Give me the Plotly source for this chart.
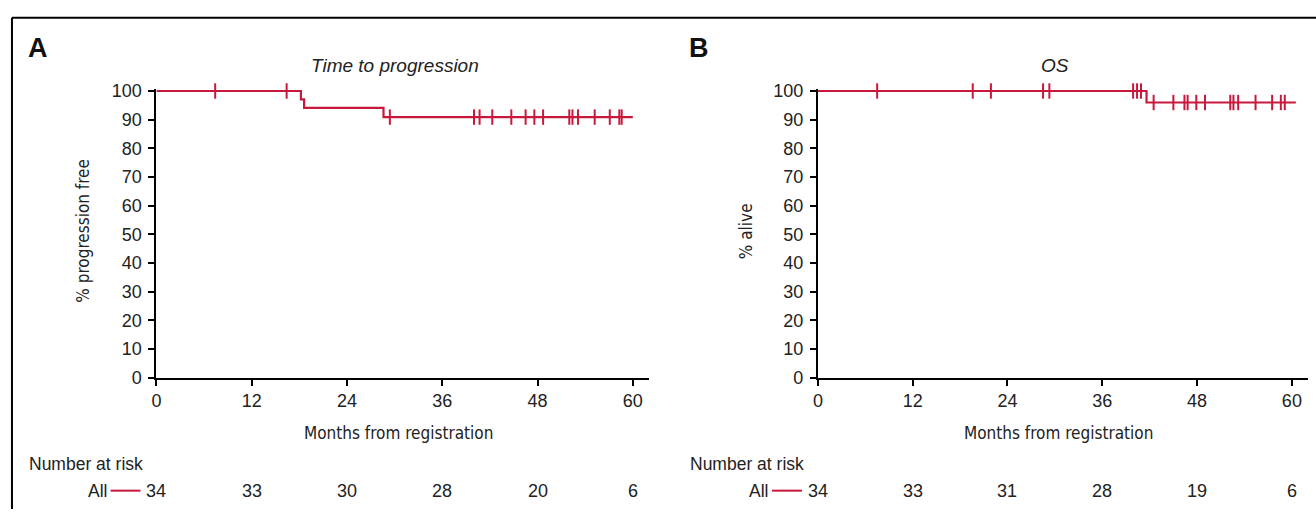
import numpy as np
import plotly.graph_objects as go

# ---------------- data ----------------
month_ticks = [0, 12, 24, 36, 48, 60]
pct_ticks = [0, 10, 20, 30, 40, 50, 60, 70, 80, 90, 100]

# Panel A: time to progression (KM steps)
ttp_step_t = [0, 18.2, 18.6, 28.6, 60.0]
ttp_step_s = [100, 97.1, 94.1, 90.9, 90.9]
ttp_censor_t = [7.4, 16.4, 29.4, 40.0, 40.7, 42.3, 44.7, 46.5, 47.6, 48.7,
                52.0, 52.4, 53.1, 55.2, 57.1, 58.3, 58.6]
ttp_at_risk = [34, 33, 30, 28, 20, 6]

# Panel B: overall survival
os_step_t = [0, 41.6, 60.5]
os_step_s = [100, 96.0, 96.0]
os_censor_t = [7.5, 19.6, 21.9, 28.5, 29.3, 39.9, 40.4, 40.9, 42.5, 45.0,
               46.4, 46.8, 47.9, 49.0, 52.2, 52.6, 53.2, 55.4, 57.5, 58.6, 59.1]
os_at_risk = [34, 33, 31, 28, 19, 6]

# ---------------- style ----------------
W, H = 1316, 519
RED = "#C8193C"
FONT = "Liberation Sans, Arial, sans-serif"
NARROW = "DejaVu Sans Condensed, Liberation Sans Narrow, sans-serif"


def fx(px):
    return px / W


def fy(py):
    return 1 - py / H


def step_value(t_steps, s_steps, t):
    idx = np.searchsorted(np.asarray(t_steps), np.asarray(t), side="right") - 1
    return list(np.asarray(s_steps)[idx])


fig = go.Figure()

panels = [
    dict(x="x", y="y", xa="xaxis", ya="yaxis", x0=152, ppm=7.97,
         t=ttp_step_t, s=ttp_step_s, c=ttp_censor_t, risk=ttp_at_risk,
         title="Time to progression", ytitle="% progression free",
         letter="A", letter_x=22, ytitle_x=78, nar_x=22, all_x=104),
    dict(x="x2", y="y2", xa="xaxis2", ya="yaxis2", x0=816, ppm=7.93,
         t=os_step_t, s=os_step_s, c=os_censor_t, risk=os_at_risk,
         title="OS", ytitle="% alive",
         letter="B", letter_x=686, ytitle_x=744, nar_x=686, all_x=768),
]

Y0, Y100 = 383, 86
ppu = (Y0 - Y100) / 100.0
YMAX = 100.6
XMAX = 62

annotations = []
shapes = []

for p in panels:
    fig.add_trace(go.Scatter(
        x=p["t"], y=p["s"], mode="lines", line=dict(color=RED, width=2.2, shape="hv"),
        xaxis=p["x"], yaxis=p["y"], showlegend=False, hoverinfo="skip"))
    fig.add_trace(go.Scatter(
        x=p["c"], y=step_value(p["t"], p["s"], p["c"]), mode="markers",
        marker=dict(symbol="line-ns-open", size=11, color=RED, line=dict(color=RED, width=2)),
        xaxis=p["x"], yaxis=p["y"], showlegend=False, cliponaxis=False, hoverinfo="skip"))

    x_end = p["x0"] + XMAX * p["ppm"]
    fig.layout[p["xa"]] = dict(
        domain=[fx(p["x0"]), fx(x_end)], range=[0, XMAX], anchor=p["y"],
        tickvals=month_ticks, ticks="outside", ticklen=6, tickwidth=1.5, tickcolor="black",
        showline=True, linecolor="black", linewidth=2, showgrid=False, zeroline=False,
        tickfont=dict(family=FONT, size=18, color="#222"), fixedrange=True)
    fig.layout[p["ya"]] = dict(
        domain=[fy(Y0), fy(Y100 - (YMAX - 100) * ppu)], range=[0, YMAX], anchor=p["x"],
        tickvals=pct_ticks, ticks="outside", ticklen=6, tickwidth=1.5, tickcolor="black",
        showline=True, linecolor="black", linewidth=2, showgrid=False, zeroline=False,
        ticklabelstandoff=3,
        tickfont=dict(family=FONT, size=18, color="#222"), fixedrange=True)

    cx = p["x0"] + 60 * p["ppm"] / 2
    # plot title
    annotations.append(dict(text=f"<i>{p['title']}</i>", x=fx(cx), y=fy(60), xref="paper", yref="paper",
                            showarrow=False, font=dict(family=FONT, size=19, color="#222"),
                            xanchor="center", yanchor="middle"))
    # panel letter
    annotations.append(dict(text=f"<b>{p['letter']}</b>", x=fx(p["letter_x"] - 1), y=fy(41), xref="paper",
                            yref="paper", showarrow=False, font=dict(family=FONT, size=27, color="#111"),
                            xanchor="left", yanchor="middle"))
    # axis titles
    annotations.append(dict(text=p["ytitle"], x=fx(p["ytitle_x"]), y=fy(231), xref="paper", yref="paper",
                            showarrow=False, textangle=-90, font=dict(family=NARROW, size=17, color="#222"),
                            xanchor="center", yanchor="middle"))
    annotations.append(dict(text="Months from registration", x=fx(cx + 4), y=fy(440), xref="paper",
                            yref="paper", showarrow=False, font=dict(family=NARROW, size=17, color="#222"),
                            xanchor="center", yanchor="middle"))
    # number at risk
    annotations.append(dict(text="Number at risk", x=fx(p["nar_x"]), y=fy(472), xref="paper", yref="paper",
                            showarrow=False, font=dict(family=FONT, size=17.5, color="#222"),
                            xanchor="left", yanchor="middle"))
    annotations.append(dict(text="All", x=fx(p["all_x"]), y=fy(500), xref="paper", yref="paper",
                            showarrow=False, font=dict(family=FONT, size=17.5, color="#222"),
                            xanchor="right", yanchor="middle"))
    shapes.append(dict(type="line", xref="paper", yref="paper",
                       x0=fx(p["all_x"] + 2), x1=fx(p["all_x"] + 32), y0=fy(500), y1=fy(500),
                       line=dict(color=RED, width=2)))
    for m, n in zip(month_ticks, p["risk"]):
        annotations.append(dict(text=str(n), x=m, y=fy(500), xref=p["x"], yref="paper",
                                showarrow=False, font=dict(family=FONT, size=18, color="#222"),
                                xanchor="center", yanchor="middle"))

# outer frame (top and left edges)
shapes.append(dict(type="line", xref="paper", yref="paper", x0=fx(7), x1=1.0, y0=fy(10), y1=fy(10),
                   line=dict(color="black", width=2)))
shapes.append(dict(type="line", xref="paper", yref="paper", x0=fx(7), x1=fx(7), y0=fy(10), y1=0,
                   line=dict(color="black", width=2)))

fig.update_layout(
    width=W, height=H, margin=dict(l=0, r=0, t=0, b=0), autosize=False,
    paper_bgcolor="white", plot_bgcolor="white",
    annotations=annotations, shapes=shapes, showlegend=False,
)

fig.write_html(
    "out.html",
    config={"responsive": False, "displayModeBar": False},
    post_script=(
        "var d=document.getElementById('{plot_id}');"
        "d.style.position='fixed';d.style.top='0px';d.style.left='0px';"
        "document.body.style.margin='0';document.body.style.overflow='hidden';"
        "document.documentElement.style.overflow='hidden';"
    ),
)
